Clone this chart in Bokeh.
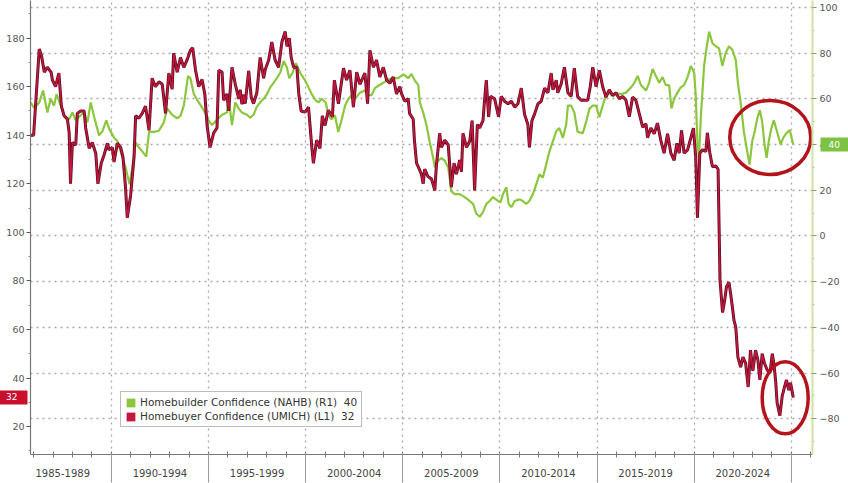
from bokeh.plotting import figure
from bokeh.models import Range1d, LinearAxis, FixedTicker, Grid, Legend, LegendItem
from bokeh.embed import file_html
from bokeh.resources import INLINE

# ---------------- data ----------------
period_starts = [1985, 1990, 1995, 2000, 2005, 2010, 2015, 2020]
period_labels = ["1985-1989", "1990-1994", "1995-1999", "2000-2004",
                 "2005-2009", "2010-2014", "2015-2019", "2020-2024"]
left_ticks = [20, 40, 60, 80, 100, 120, 140, 160, 180]
right_ticks = [-80, -60, -40, -20, 0, 20, 40, 60, 80, 100]

# Homebuyer Confidence (UMICH) - left axis
umich_dates = [
    1985.84, 1986.0, 1986.29, 1986.4, 1986.55, 1986.7, 1986.9, 1986.97,
    1987.13, 1987.3, 1987.43, 1987.57, 1987.74, 1987.83, 1987.9,
    1988.0, 1988.17, 1988.25, 1988.42, 1988.6, 1988.68, 1988.86,
    1989.02, 1989.2, 1989.31, 1989.48, 1989.63, 1989.8, 1989.88,
    1990.05, 1990.14, 1990.31, 1990.48, 1990.6, 1990.73, 1990.82, 1990.99,
    1991.17, 1991.25, 1991.42, 1991.59, 1991.76, 1991.94,
    1992.1, 1992.27, 1992.45, 1992.62, 1992.79, 1992.96,
    1993.13, 1993.21, 1993.39, 1993.56, 1993.73, 1993.9,
    1994.07, 1994.19, 1994.33, 1994.5, 1994.67, 1994.81, 1994.93,
    1995.08, 1995.27, 1995.44, 1995.53, 1995.7, 1995.78, 1995.95,
    1996.04, 1996.21, 1996.38, 1996.56, 1996.64, 1996.72, 1996.81, 1996.89,
    1997.07, 1997.2, 1997.32, 1997.49, 1997.66, 1997.84, 1997.92,
    1998.1, 1998.26, 1998.43, 1998.61, 1998.78, 1998.95,
    1999.04, 1999.16, 1999.26, 1999.38, 1999.55, 1999.65, 1999.77, 1999.97,
    2000.15, 2000.32, 2000.4, 2000.57, 2000.74, 2000.86,
    2001.0, 2001.17, 2001.38, 2001.48, 2001.69, 2001.95,
    2002.11, 2002.28, 2002.46, 2002.63, 2002.8,
    2003.05, 2003.19, 2003.31, 2003.49, 2003.65, 2003.82,
    2004.0, 2004.17, 2004.34, 2004.51, 2004.68, 2004.85, 2004.94,
    2005.11, 2005.28, 2005.35, 2005.54, 2005.6, 2005.71, 2005.8, 2005.96,
    2006.05, 2006.13, 2006.3, 2006.48, 2006.65, 2006.73, 2006.9, 2006.99,
    2007.16, 2007.34, 2007.5, 2007.64, 2007.76, 2007.93,
    2008.02, 2008.1, 2008.28, 2008.45, 2008.57, 2008.7, 2008.84, 2008.96,
    2009.13, 2009.21, 2009.3, 2009.42, 2009.52, 2009.73, 2009.93,
    2010.07, 2010.24, 2010.42, 2010.59, 2010.76, 2010.93,
    2011.1, 2011.27, 2011.44, 2011.52, 2011.65, 2011.78, 2011.96,
    2012.13, 2012.3, 2012.47, 2012.64, 2012.73, 2012.9, 2012.98,
    2013.15, 2013.32, 2013.5, 2013.67, 2013.83,
    2014.0, 2014.18, 2014.35, 2014.52, 2014.65, 2014.78, 2014.95,
    2015.12, 2015.29, 2015.46, 2015.63, 2015.8, 2015.97,
    2016.15, 2016.32, 2016.49, 2016.66, 2016.83,
    2017.0, 2017.17, 2017.35, 2017.52, 2017.6, 2017.77, 2017.94,
    2018.11, 2018.28, 2018.45, 2018.63, 2018.8, 2018.97,
    2019.11, 2019.23, 2019.35, 2019.48, 2019.66, 2019.83, 2019.96,
    2020.08, 2020.17, 2020.29, 2020.43, 2020.6, 2020.68, 2020.8, 2020.94,
    2021.11, 2021.23, 2021.33, 2021.46, 2021.57, 2021.66, 2021.79, 2021.88, 2021.97,
    2022.05, 2022.14, 2022.25, 2022.39, 2022.51, 2022.65, 2022.78, 2022.9,
    2023.02, 2023.16, 2023.28, 2023.38, 2023.5, 2023.62, 2023.76, 2023.9,
    2024.02, 2024.1, 2024.19, 2024.27, 2024.41, 2024.53, 2024.65, 2024.75, 2024.87, 2024.96,
    2025.1,
]
umich_values = [
    140, 140, 175.5, 173, 166, 168, 166, 162.7,
    160, 165.6, 152, 148, 146.6, 141, 120,
    137, 136, 149, 150, 150, 143, 134.6,
    137, 132.5, 120, 128.5, 132, 136.7, 134,
    135, 129, 136.7, 135, 131, 118.6, 106, 115,
    131, 148, 147, 149, 152, 142,
    163.5, 160, 162, 161, 149, 165.6,
    159, 173.8, 166, 172, 168, 171,
    175, 176, 167, 160, 163, 157, 144,
    135, 141, 143, 166.8, 166, 154.4, 157,
    150, 168, 161, 155, 158.7, 152.8, 156.7, 153,
    166.5, 155.7, 153, 157.5, 172, 163.5, 167,
    171, 178.4, 171, 168, 178.4, 182.7,
    176.6, 180, 172, 168, 168, 157, 150, 149.5,
    151.6, 135, 128.5, 138, 134.6, 148,
    144, 150.3, 147.6, 162.7, 153, 167.6,
    162.7, 166.8, 151.6, 166, 161,
    165.6, 153, 175, 168, 171, 164,
    168, 162.7, 161.4, 164, 157, 160, 157,
    154, 155, 149, 146.6, 138, 128.5, 127, 124,
    120, 126, 123, 122, 117.3, 127.4, 140.8, 135,
    138, 136, 118.6, 128.5, 124, 129.8,
    125, 140.8, 135, 137.6, 146, 117.3, 144.4, 143,
    146, 154.4, 162.7, 147.6, 156, 155, 147.6,
    156, 154, 153, 154, 151.6, 153,
    159.4, 148.6, 144.4, 135, 146, 148.6, 153,
    154, 159.4, 157.5, 165.6, 158.7, 162.7, 157.5,
    161, 168, 157.5, 156, 167.6,
    156, 154.4, 154.4, 154.4, 160, 168, 160,
    166.8, 160, 155.7, 158.7, 156.5, 157.4,
    155, 156, 154.4, 147.6, 155.7,
    154.4, 149, 143.3, 144.7, 139, 143, 140.6,
    145, 138, 132.6, 140.6, 132.6, 129.7,
    136.7, 132.6, 142, 132.6, 134, 139, 142.9,
    131, 106, 132.6, 134, 133.3, 141, 133, 127,
    127.4, 126, 80.2, 67, 72, 77.5, 79.5, 74.5, 69,
    63.7, 61, 48.6, 44.5, 48.6, 46, 36.3, 51.5,
    43, 51.5, 47.4, 39.2, 50, 46, 43.3, 42,
    50, 46, 39, 29.7, 24.5, 32.5, 36.3, 39.2, 35, 38,
    32,
]

# Homebuilder Confidence (NAHB) - right axis
nahb_dates = [
    1985.84, 1986.03, 1986.29, 1986.49, 1986.71, 1986.88,
    1987.05, 1987.18, 1987.4, 1987.57, 1987.83,
    1988.0, 1988.17, 1988.42, 1988.6, 1988.77, 1988.94,
    1989.16, 1989.37, 1989.54, 1989.74, 1989.91,
    1990.14, 1990.31, 1990.48, 1990.73, 1990.94,
    1991.08, 1991.25, 1991.39, 1991.59, 1991.8, 1991.94,
    1992.19, 1992.45, 1992.71, 1992.87,
    1993.13, 1993.39, 1993.56, 1993.73, 1993.95,
    1994.07, 1994.25, 1994.5, 1994.76,
    1995.01, 1995.18, 1995.35, 1995.7, 1995.95,
    1996.04, 1996.21, 1996.38, 1996.56, 1996.72, 1996.98,
    1997.15, 1997.32, 1997.49, 1997.66, 1997.84,
    1998.01, 1998.18, 1998.35, 1998.52, 1998.69, 1998.87,
    1999.04, 1999.16, 1999.33, 1999.5, 1999.72, 1999.94,
    2000.15, 2000.32, 2000.52, 2000.66, 2000.83,
    2001.04, 2001.17, 2001.34, 2001.51, 2001.68, 2001.86,
    2002.03, 2002.2, 2002.37, 2002.54, 2002.8,
    2003.05, 2003.22, 2003.4, 2003.57, 2003.74,
    2004.0, 2004.25, 2004.51, 2004.77,
    2005.03, 2005.28, 2005.45, 2005.62, 2005.8, 2005.88,
    2006.05, 2006.22, 2006.39, 2006.57, 2006.65, 2006.82, 2006.99,
    2007.16, 2007.34, 2007.5, 2007.67, 2007.93,
    2008.19, 2008.44, 2008.62, 2008.79, 2008.96,
    2009.13, 2009.3, 2009.47, 2009.65, 2009.9,
    2010.03, 2010.16, 2010.33, 2010.45, 2010.59, 2010.76,
    2011.01, 2011.18, 2011.35, 2011.52, 2011.7, 2011.87,
    2012.04, 2012.21, 2012.38, 2012.55, 2012.73, 2012.9,
    2013.06, 2013.24, 2013.41, 2013.5, 2013.67, 2013.83,
    2014.0, 2014.27, 2014.44, 2014.61, 2014.78, 2014.95,
    2015.12, 2015.29, 2015.46, 2015.63, 2015.82, 2015.97,
    2016.23, 2016.49, 2016.75, 2016.92,
    2017.09, 2017.26, 2017.52, 2017.68, 2017.86,
    2018.03, 2018.2, 2018.37, 2018.54, 2018.71, 2018.83, 2018.97,
    2019.14, 2019.31, 2019.48, 2019.66, 2019.83,
    2020.0, 2020.08, 2020.17, 2020.25, 2020.34, 2020.51, 2020.65, 2020.77, 2020.94,
    2021.11, 2021.28, 2021.45, 2021.62, 2021.79, 2021.97,
    2022.14, 2022.25, 2022.39, 2022.56, 2022.73, 2022.85, 2022.99,
    2023.11, 2023.25, 2023.38, 2023.5, 2023.62, 2023.73, 2023.84, 2023.97,
    2024.1, 2024.27, 2024.45, 2024.58, 2024.75, 2024.92,
    2025.1,
]
nahb_values = [
    58.4, 56, 58.4, 63.6, 54, 60,
    57, 62, 57, 52.8, 51,
    54, 50.6, 52.8, 54, 49.7, 58.4,
    50.6, 44, 45.8, 50.6, 46.5,
    43, 41.5, 37, 30, 22.6,
    30, 41, 39, 37, 34.7, 45.5,
    45.5, 46, 49.8, 55.8,
    53, 51.5, 52.5, 57, 70,
    69, 62, 58.4, 55,
    50.6, 48.5, 50, 53, 54,
    60, 48.5, 58.4, 55.7, 54, 53,
    51.7, 53, 56.6, 58.4, 60,
    62, 65, 67, 69, 71.4, 76.5,
    73.6, 69, 71.4, 75.6, 71.4, 68.5,
    65, 62, 59.3, 58.4, 60,
    58.4, 52.8, 51, 52.8, 45.5, 51,
    57, 60, 61.6, 60, 62.7,
    63.6, 61.6, 61.6, 64.7, 65.7,
    67, 68.5, 69, 69,
    70.7, 69, 70.9, 68, 66, 58.4,
    54, 48.5, 41, 34, 30, 33, 34,
    33, 30, 19.6, 18.3, 18.3,
    17, 15.3, 14, 9.7, 8.4,
    10.4, 14, 15.3, 17, 15.3,
    14.7, 18.3, 21.3, 14, 12.6, 15.3,
    16, 15.3, 14, 15.3, 18.3, 22.6,
    27, 25.5, 31.2, 37, 41.5, 45.8,
    47.2, 42.9, 48.6, 57, 57, 54,
    45.5, 45, 50, 55.7, 57, 57,
    52, 57, 61.6, 62.7, 61, 62.7,
    62, 62.7, 65, 67,
    70, 66, 63.6, 67, 73,
    70, 67, 69.5, 66, 66, 55.8, 60,
    62.7, 65, 66, 69.5, 74.4,
    71.4, 61.4, 40, 34.2, 51.5, 74.4, 83, 89.4, 84.3,
    83, 82, 74.4, 80, 83, 81.3,
    77, 67, 58.4, 45.5, 37, 31.2, 41.5,
    45.5, 51.5, 55, 50, 40, 34.2, 41.5, 47,
    50.6, 45.5, 40, 42.9, 45, 46.3,
    40,
]

# ---------------- styling ----------------
GREEN = "#8cc63f"
RED = "#c4173f"
RED_DARK = "#5e0c20"
CIRCLE = "#b3141c"
FONT = "DejaVu Sans"
NB = "\u00a0"
X0, X1 = 1985.84, 2026.09

p = figure(width=848, height=483, output_backend="svg", toolbar_location=None,
           x_range=Range1d(X0, X1), y_range=Range1d(8.5, 195.5),
           x_axis_type=None, y_axis_type=None,
           min_border_left=28, min_border_right=36, min_border_top=0, min_border_bottom=29,
           background_fill_color="white", border_fill_color="white",
           outline_line_color=None)
p.extra_y_ranges = {"right": Range1d(-95.6, 103)}

boundaries = [s + 5 for s in period_starts]
mids = [s + 2.5 for s in period_starts]
years = list(range(1986, 2027))

grid_style = dict(grid_line_color="#a9a9a9", grid_line_dash="2 4", grid_line_width=1.3)
p.add_layout(Grid(dimension=0, ticker=FixedTicker(ticks=boundaries), **grid_style))
p.add_layout(Grid(dimension=1, ticker=FixedTicker(ticks=right_ticks),
                  y_range_name="right", **grid_style))

# series
p.line(nahb_dates, nahb_values, y_range_name="right", line_color=GREEN, line_width=2.2)
p.line(umich_dates, umich_values, line_color=RED_DARK, line_width=3.0)
p.line(umich_dates, umich_values, line_color=RED, line_width=1.5)

# circles round the latest readings
g_sel = [i for i, d in enumerate(nahb_dates) if d >= 2022.7]
g_cx = (nahb_dates[g_sel[0]] + nahb_dates[g_sel[-1]]) / 2
g_vals = [nahb_values[i] for i in g_sel]
g_cy = (max(g_vals) + min(g_vals)) / 2
r_sel = [i for i, d in enumerate(umich_dates) if d >= 2024.25]
r_cx = (umich_dates[r_sel[0]] + umich_dates[r_sel[-1]]) / 2
r_vals = [umich_values[i] for i in r_sel]
r_cy = (max(r_vals) + min(r_vals)) / 2
p.ellipse(x=[g_cx], y=[g_cy], width=[81], height=[74], width_units="screen",
          height_units="screen", y_range_name="right", fill_color=None,
          line_color=CIRCLE, line_width=3.5)
p.ellipse(x=[r_cx], y=[r_cy], width=[46], height=[72], width_units="screen",
          height_units="screen", fill_color=None, line_color=CIRCLE, line_width=3.5)

u_last = umich_values[-1]
n_last = nahb_values[-1]

# axes
ax_l = LinearAxis(ticker=FixedTicker(ticks=left_ticks, minor_ticks=[t - 10 for t in left_ticks] + [190]),
                  axis_line_color="#777777", axis_line_width=1.2,
                  major_tick_line_color="#555555", minor_tick_line_color="#888888",
                  major_tick_out=4, major_tick_in=0, minor_tick_out=2, minor_tick_in=0,
                  major_label_text_font=FONT, major_label_text_font_size="9.5px",
                  major_label_text_color="#555555", major_label_standoff=2)
p.add_layout(ax_l, "left")

# last-value badge on the left: a thick red tick with the value written on it
badge_l = LinearAxis(ticker=FixedTicker(ticks=[u_last], minor_ticks=[]),
                     major_label_overrides={u_last: f"{NB}{u_last:g}"},
                     axis_line_color=None, minor_tick_line_color=None,
                     major_tick_line_color="#c8102e", major_tick_line_width=14,
                     major_tick_out=4, major_tick_in=24, major_label_standoff=-18,
                     major_label_text_font=FONT, major_label_text_font_size="9px",
                     major_label_text_color="white")
p.add_layout(badge_l, "left")

ax_r = LinearAxis(y_range_name="right",
                  ticker=FixedTicker(ticks=right_ticks, minor_ticks=[t + 10 for t in right_ticks[:-1]] + [-90]),
                  axis_line_color="#cfe4a4", axis_line_width=2,
                  major_tick_line_color="#8a9a70", minor_tick_line_color="#b5c99a",
                  major_tick_out=4, major_tick_in=0, minor_tick_out=2, minor_tick_in=0,
                  major_label_text_font=FONT, major_label_text_font_size="9.5px",
                  major_label_text_color="#555555", major_label_standoff=3)
p.add_layout(ax_r, "right")

badge_r = LinearAxis(y_range_name="right", ticker=FixedTicker(ticks=[n_last], minor_ticks=[]),
                     major_label_overrides={n_last: f"{n_last:g}{NB}"},
                     axis_line_color=None, minor_tick_line_color=None,
                     major_tick_line_color="#7dc242", major_tick_line_width=14,
                     major_tick_out=11, major_tick_in=22, major_label_standoff=-25,
                     major_label_text_font=FONT, major_label_text_font_size="9px",
                     major_label_text_color="white")
p.add_layout(badge_r, "right")

ax_a = LinearAxis(ticker=FixedTicker(ticks=mids, minor_ticks=years),
                  major_label_overrides=dict(zip(mids, period_labels)),
                  axis_line_color="#777777", axis_line_width=1.2,
                  major_tick_in=0, major_tick_out=0,
                  minor_tick_in=3, minor_tick_out=3, minor_tick_line_color="#777777",
                  major_label_text_font=FONT, major_label_text_font_size="10px",
                  major_label_text_color="#444444", major_label_standoff=11)
p.add_layout(ax_a, "below")

ax_b = LinearAxis(ticker=FixedTicker(ticks=boundaries, minor_ticks=[]),
                  major_label_overrides={b: "" for b in boundaries},
                  axis_line_color=None, major_tick_line_color="#999999",
                  major_tick_in=26, major_tick_out=3, minor_tick_line_color=None,
                  major_label_text_font_size="1px", major_label_text_color=None,
                  major_label_standoff=0)
p.add_layout(ax_b, "below")

# legend with square swatches (zero-area quads at the last readings)
g_leg = p.quad(left=[nahb_dates[-1]], right=[nahb_dates[-1]], top=[n_last], bottom=[n_last],
               y_range_name="right", fill_color=GREEN, line_color=None)
r_leg = p.quad(left=[umich_dates[-1]], right=[umich_dates[-1]], top=[u_last], bottom=[u_last],
               fill_color=RED, line_color=None)
legend = Legend(items=[
    LegendItem(label=f"Homebuilder Confidence (NAHB) (R1){NB}{NB}{n_last:g}", renderers=[g_leg]),
    LegendItem(label=f"Homebuyer Confidence (UMICH) (L1){NB}{NB}{u_last:g}", renderers=[r_leg]),
], location=(90, 27), orientation="vertical",
    label_text_font=FONT, label_text_font_size="10.5px", label_text_color="#333333",
    glyph_width=11, glyph_height=11, label_height=12, label_standoff=4,
    spacing=2, padding=4, margin=0,
    border_line_color="#7a7a7a", border_line_width=1.5,
    background_fill_color="white", background_fill_alpha=1.0)
p.add_layout(legend)

open("out.html", "w").write(file_html(p, INLINE))
